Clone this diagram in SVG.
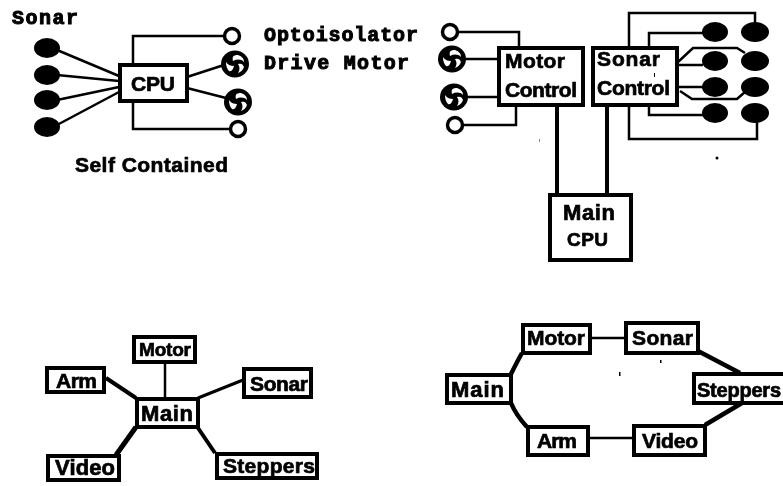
<svg xmlns="http://www.w3.org/2000/svg" width="783" height="486" viewBox="0 0 783 486">
<defs>
<filter id="soft" x="-2%" y="-2%" width="104%" height="104%"><feGaussianBlur stdDeviation="0.5"/></filter>
<g id="fan"><ellipse rx="14" ry="13.5" fill="#000"/><path d="M-2-3C-3-7-2-9 3-9C6-8 9-6 9-2C6-5 2-5-2-3ZM3 0C6-1 8 0 9 3C8 6 6 8 3 9C5 6 5 3 3 0ZM-1 2C-2 5-3 8-6 7C-8 5-9 2-9-2C-7 1-4 2-1 2Z" fill="#fff"/></g>
</defs>
<style>
rect.b{fill:#fff;stroke:#000;stroke-width:4}
.ring{fill:#fff;stroke:#000;stroke-width:3.5}
.w{fill:none;stroke:#000;stroke-width:2.5}
.t{font-family:"Liberation Sans",Arial,sans-serif;font-weight:700;font-size:21px;fill:#000;stroke:#000;stroke-width:.7}
.m{font-family:"Liberation Mono","Courier New",monospace;font-weight:700;font-size:20px;fill:#000;stroke:#000;stroke-width:1}
</style>
<rect width="783" height="486" fill="#fff"/>
<g filter="url(#soft)">
<g id="connectors">
<path class="w" d="M57 50L119 76M57 75L119 81M57 100L119 87M57 125L119 92M133 64V36H224M187 77L224 65M187 88L226 98M133 101V129H230"/>
<path class="w" d="M458 32H519V47M465 59H498M467 97H498M463 125H516V105"/>
<path class="w" d="M629 47V13H755V24M649 47V33H703M678 62L693 48H737L745 53M678 65H703M678 87H703M680 91L692 99H737L745 92M649 105V115H703M629 105V139H757V122"/>
<path class="w" style="stroke-width:4" d="M557 105V194M607 105V194"/>
<path class="w" d="M165 361V398"/>
<path class="w" style="stroke-width:4" d="M106 378L136 398M198 428L215 453"/>
<path class="w" style="stroke-width:3" d="M198 398L243 380"/>
<path class="w" style="stroke-width:5" d="M136 427L116 455"/>
<path class="w" d="M590 338H625M588 438H633"/>
<path class="w" style="stroke-width:4.5" d="M522 353Q518 360 511 374M511 403Q516 415 527 427M698 351L740 373M705 425L742 403"/>
</g>
<g id="sonar-self">
<ellipse cx="47" cy="48" rx="13" ry="10"/><ellipse cx="47" cy="75" rx="13" ry="10"/><ellipse cx="47" cy="100" rx="13" ry="10"/><ellipse cx="47" cy="127" rx="13" ry="10"/>
<text class="m" x="12" y="24" textLength="66">Sonar</text>
</g>
<g id="cpu-self"><rect class="b" x="120" y="65" width="67" height="36"/><text class="t" x="131" y="91" textLength="44">CPU</text></g>
<g id="opto-self">
<circle class="ring" cx="232" cy="36" r="7.5"/><circle class="ring" cx="238" cy="129" r="7.5"/>
<text class="m" x="264" y="41" textLength="154">Optoisolator</text>
</g>
<g id="motors-self">
<use href="#fan" x="235" y="64"/><use href="#fan" x="238" y="102"/>
<text class="m" x="264" y="69" textLength="145">Drive Motor</text>
</g>
<g id="caption"><text class="t" x="75" y="172" textLength="153">Self Contained</text></g>
<g id="motor-control">
<rect class="b" x="499" y="48" width="84" height="57"/>
<text class="t" x="505" y="68" textLength="60">Motor</text><text class="t" x="505" y="97" textLength="72">Control</text>
<circle class="ring" cx="450" cy="32" r="7.5"/><circle class="ring" cx="455" cy="125" r="7.5"/>
<use href="#fan" x="452" y="59"/><use href="#fan" x="454" y="97"/>
</g>
<g id="sonar-control">
<rect class="b" x="593" y="48" width="84" height="57"/>
<text class="t" x="597" y="66" textLength="63">Sonar</text><text class="t" x="597" y="95" textLength="73">Control</text>
<ellipse cx="715" cy="32" rx="13" ry="10"/><ellipse cx="755" cy="32" rx="14" ry="10"/>
<ellipse cx="715" cy="61" rx="13" ry="10"/><ellipse cx="755" cy="61" rx="14" ry="10"/>
<ellipse cx="715" cy="87" rx="13" ry="10"/><ellipse cx="755" cy="87" rx="14" ry="10"/>
<ellipse cx="715" cy="113" rx="13" ry="10"/><ellipse cx="755" cy="113" rx="14" ry="10"/>
</g>
<g id="main-cpu">
<rect class="b" x="550" y="195" width="81" height="65"/>
<text class="t" x="563" y="220" textLength="52" style="font-size:22px">Main</text><text class="t" x="567" y="246" textLength="41" style="font-size:19px">CPU</text>
</g>
<g id="star-motor"><rect class="b" x="134" y="337" width="61" height="25"/><text class="t" x="139" y="356" textLength="52" style="font-size:19px">Motor</text></g>
<g id="star-arm"><rect class="b" x="47" y="368" width="57" height="24"/><text class="t" x="56" y="388" textLength="41">Arm</text></g>
<g id="star-sonar"><rect class="b" x="244" y="369" width="67" height="28"/><text class="t" x="250" y="391" textLength="58">Sonar</text></g>
<g id="star-main"><rect class="b" x="137" y="399" width="61" height="28"/><text class="t" x="141" y="421" textLength="52" style="font-size:22px">Main</text></g>
<g id="star-video"><rect class="b" x="48" y="456" width="71" height="24"/><text class="t" x="55" y="475" textLength="60" style="font-size:22px">Video</text></g>
<g id="star-steppers"><rect class="b" x="217" y="454" width="100" height="24"/><text class="t" x="223" y="473" textLength="92">Steppers</text></g>
<g id="ring-motor"><rect class="b" x="523" y="325" width="67" height="28"/><text class="t" x="527" y="345" textLength="58">Motor</text></g>
<g id="ring-sonar"><rect class="b" x="626" y="323" width="72" height="30"/><text class="t" x="632" y="345" textLength="61">Sonar</text></g>
<g id="ring-main"><rect class="b" x="447" y="375" width="64" height="28"/><text class="t" x="451" y="397" textLength="53" style="font-size:22px">Main</text></g>
<g id="ring-steppers"><rect class="b" x="694" y="374" width="95" height="29"/><text class="t" x="697" y="397" textLength="84" style="font-size:20px">Steppers</text></g>
<g id="ring-arm"><rect class="b" x="528" y="427" width="60" height="28"/><text class="t" x="537" y="448" textLength="40">Arm</text></g>
<g id="ring-video"><rect class="b" x="634" y="426" width="71" height="29"/><text class="t" x="642" y="448" textLength="56">Video</text></g>
<circle cx="717" cy="158" r="1.5"/><rect x="619" y="372" width="1.5" height="4"/><rect x="660" y="360" width="1.5" height="3"/><rect x="654" y="73" width="1" height="4"/><rect x="539" y="139" width="1" height="3" fill="#888"/>
</g>
</svg>
